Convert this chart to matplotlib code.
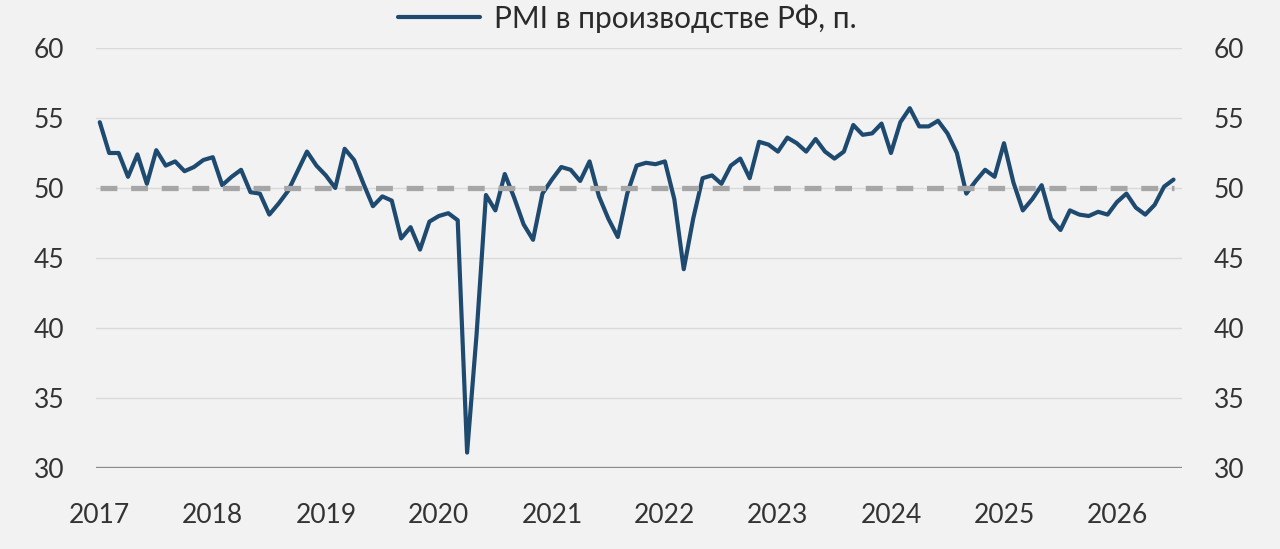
import matplotlib
matplotlib.use("Agg")
import matplotlib.pyplot as plt
import numpy as np

# monthly PMI, Jan 2017 .. Jul 2026
pmi = [
    54.7, 52.5, 52.5, 50.8, 52.4, 50.3, 52.7, 51.6, 51.9, 51.2, 51.5, 52.0,
    52.2, 50.2, 50.8, 51.3, 49.7, 49.6, 48.1, 48.9, 49.8, 51.2, 52.6, 51.6,
    50.9, 50.0, 52.8, 52.0, 50.3, 48.7, 49.4, 49.1, 46.4, 47.2, 45.6, 47.6,
    48.0, 48.2, 47.7, 31.1, 39.5, 49.5, 48.4, 51.0, 49.3, 47.4, 46.3, 49.6,
    50.6, 51.5, 51.3, 50.5, 51.9, 49.4, 47.8, 46.5, 49.6, 51.6, 51.8, 51.7,
    51.9, 49.2, 44.2, 47.8, 50.7, 50.9, 50.3, 51.6, 52.1, 50.7, 53.3, 53.1,
    52.6, 53.6, 53.2, 52.6, 53.5, 52.6, 52.1, 52.6, 54.5, 53.8, 53.9, 54.6,
    52.5, 54.7, 55.7, 54.4, 54.4, 54.8, 53.9, 52.5, 49.6, 50.5, 51.3, 50.8,
    53.2, 50.4, 48.4, 49.2, 50.2, 47.8, 47.0, 48.4, 48.1, 48.0, 48.3, 48.1,
    49.0, 49.6, 48.6, 48.1, 48.8, 50.1, 50.6,
]
years = [str(y) for y in range(2017, 2027)]
threshold = 50
y_ticks = [30, 35, 40, 45, 50, 55, 60]
label = "PMI в производстве РФ, п."

bg = "#f2f2f2"
txt = "#333333"
blue = "#1f4a70"

plt.rcParams["font.family"] = ["Lato", "DejaVu Sans"]

fig = plt.figure(figsize=(12.8, 5.49), dpi=100, facecolor=bg)
ax = fig.add_axes([96 / 1280, 1 - 468 / 549, (1182 - 96) / 1280, 420 / 549])
ax.set_facecolor(bg)

x = np.arange(len(pmi))
for v in y_ticks[1:]:
    ax.axhline(v, color="#d9d9d9", lw=1.0, zorder=1)
ax.axhline(30, color="#8c8c8c", lw=2.4, zorder=2)

ax.plot(x, pmi, color=blue, lw=3.0, solid_joinstyle="round",
        solid_capstyle="round", zorder=3, label=label)
ax.hlines(threshold, x[0], x[-1], color="#a6a6a6", lw=3.8,
          linestyles=(0, (3.2, 2.6)), zorder=4)

ax.set_xlim(-0.4, 114.9)
ax.set_ylim(30, 60)
ax.set_yticks(y_ticks)
ax.set_xticks(x[::12])
ax.set_xticklabels(years)
ax.tick_params(axis="x", length=0, pad=25, labelsize=19, colors=txt)
ax.tick_params(axis="y", length=0, pad=23, labelsize=19, colors=txt,
               labelright=True, right=False)
for s in ax.spines.values():
    s.set_visible(False)

fig.legend(loc="center", bbox_to_anchor=(0.49, 0.966), frameon=False,
           fontsize=21.5, handlelength=2.75, handletextpad=0.45,
           labelcolor="#2a2a2a")

fig.savefig("out.png", dpi=100, facecolor=bg)
